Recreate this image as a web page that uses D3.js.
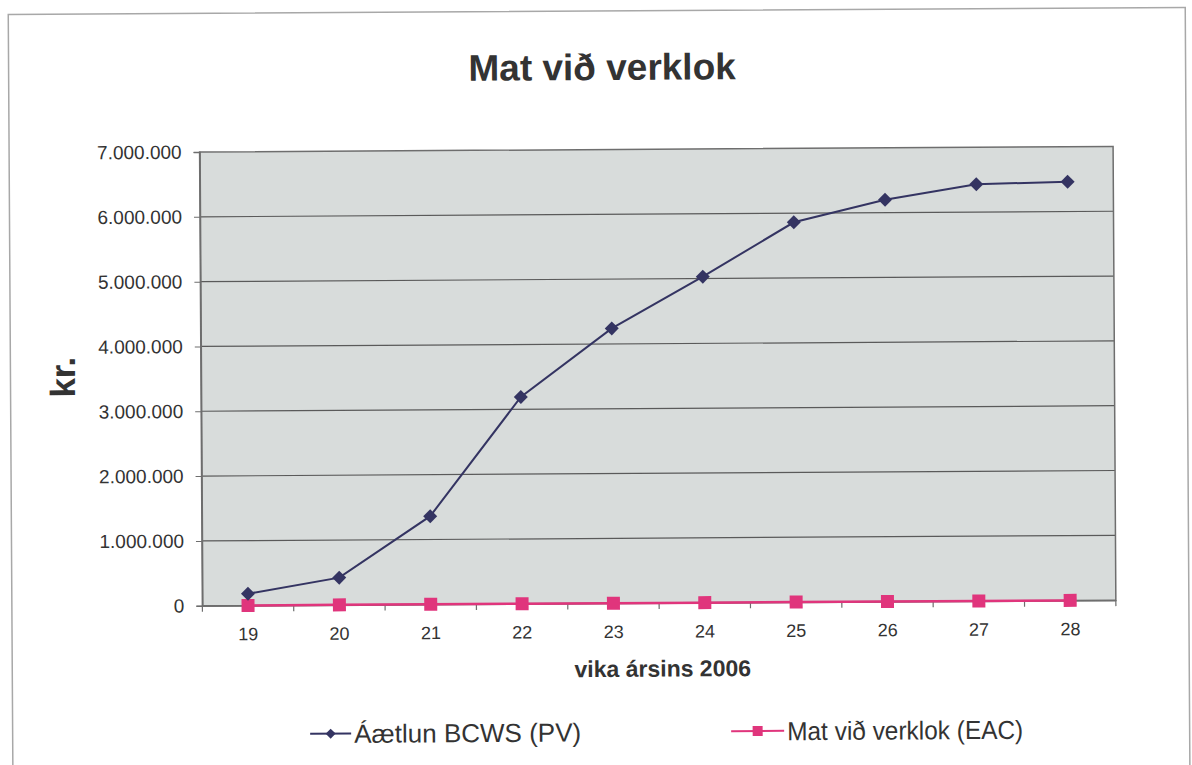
<!DOCTYPE html>
<html>
<head>
<meta charset="utf-8">
<script src="https://cdn.jsdelivr.net/npm/d3@7"></script>
<style>
  html, body { margin: 0; padding: 0; background: #ffffff; }
  svg { display: block; }
  text { font-family: "Liberation Sans", Arial, sans-serif; }
</style>
</head>
<body>
<svg id="chart" width="1192" height="765"></svg>
<script>
// ---- data ----
const weeks = ["19", "20", "21", "22", "23", "24", "25", "26", "27", "28"];
const pvValues = [180000, 420000, 1360000, 3190000, 4240000, 5030000, 5860000, 6200000, 6430000, 6460000];
const eacValues = [0, 0, 0, 0, 0, 0, 0, 0, 0, 0];
const yTicks = [0, 1000000, 2000000, 3000000, 4000000, 5000000, 6000000, 7000000];
const seriesNames = ["Áætlun BCWS (PV)", "Mat við verklok (EAC)"];
const titleText = "Mat við verklok";
const xTitle = "vika ársins 2006";
const yTitle = "kr.";

// ---- layout ----
const W = 1192, H = 765;
const plot = { left: 201, right: 1114.5, top: 149.6, bottom: 603.3 };
const pvColor = "#343462";
const eacColor = "#e0357c";

const svg = d3.select("#chart");
const g = svg.append("g").attr("transform", "rotate(-0.35, 596, 380)");

// outer frame of the chart object
g.append("rect")
  .attr("x", 10.5).attr("y", 11).attr("width", 1177).attr("height", 780)
  .attr("fill", "none").attr("stroke", "#a8a8a8").attr("stroke-width", 1.5);

const x = d3.scaleBand().domain(weeks).range([plot.left, plot.right]);
const y = d3.scaleLinear().domain([0, 7000000]).range([plot.bottom, plot.top]);
const cx = d => x(d) + x.bandwidth() / 2;

const loc = d3.formatLocale({ decimal: ",", thousands: ".", grouping: [3], currency: ["", ""] });
const fmt = loc.format(",d");

// plot background
g.append("rect")
  .attr("x", plot.left).attr("y", plot.top)
  .attr("width", plot.right - plot.left).attr("height", plot.bottom - plot.top)
  .attr("fill", "#d8dcdb");

// gridlines
g.append("g").selectAll("line").data(yTicks.filter(v => v > 0 && v < 7000000)).join("line")
  .attr("x1", plot.left).attr("x2", plot.right)
  .attr("y1", d => y(d)).attr("y2", d => y(d))
  .attr("stroke", "#5a5a5a").attr("stroke-width", 1.2);

// plot border
g.append("rect")
  .attr("x", plot.left).attr("y", plot.top)
  .attr("width", plot.right - plot.left).attr("height", plot.bottom - plot.top)
  .attr("fill", "none").attr("stroke", "#6e6e6e").attr("stroke-width", 1.5);

// y axis
const yAxis = d3.axisLeft(y).tickValues(yTicks).tickFormat(fmt).tickSize(6).tickPadding(12);
const yG = g.append("g").attr("transform", `translate(${plot.left},0)`).call(yAxis);
yG.select(".domain").attr("stroke", "#6e6e6e").attr("stroke-width", 1.5);
yG.selectAll(".tick line").attr("stroke", "#6e6e6e");
yG.selectAll(".tick text").attr("font-size", 19).attr("fill", "#333")
  .attr("font-family", "'Liberation Sans', Arial, sans-serif");

// x axis
const xAxis = d3.axisBottom(x).tickSize(0).tickPadding(22);
const xG = g.append("g").attr("transform", `translate(0,${plot.bottom})`).call(xAxis);
xG.select(".domain").attr("stroke", "#6e6e6e").attr("stroke-width", 1.5);
xG.selectAll(".tick text").attr("font-size", 18).attr("fill", "#333")
  .attr("font-family", "'Liberation Sans', Arial, sans-serif");
// boundary tick marks (between categories)
const bounds = weeks.map(d => x(d)).concat([x(weeks[weeks.length - 1]) + x.bandwidth()]);
g.append("g").selectAll("line").data(bounds).join("line")
  .attr("x1", d => d).attr("x2", d => d)
  .attr("y1", plot.bottom).attr("y2", plot.bottom + 6)
  .attr("stroke", "#6e6e6e").attr("stroke-width", 1.2);

// lines
const line = d3.line().x((d, i) => cx(weeks[i])).y(d => y(d));
g.append("path").datum(eacValues).attr("d", line)
  .attr("fill", "none").attr("stroke", eacColor).attr("stroke-width", 2.5);
g.append("path").datum(pvValues).attr("d", line)
  .attr("fill", "none").attr("stroke", pvColor).attr("stroke-width", 2);

// markers
const diamond = s => `M0,${-s}L${s},0L0,${s}L${-s},0Z`;
g.append("g").selectAll("rect").data(eacValues).join("rect")
  .attr("x", (d, i) => cx(weeks[i]) - 6.5).attr("y", d => y(d) - 6.5)
  .attr("width", 13).attr("height", 13)
  .attr("fill", eacColor);
g.append("g").selectAll("path").data(pvValues).join("path")
  .attr("transform", (d, i) => `translate(${cx(weeks[i])},${y(d)})`)
  .attr("d", diamond(7))
  .attr("fill", pvColor);

// title
g.append("text").attr("x", 604).attr("y", 80).attr("text-anchor", "middle")
  .attr("font-size", 37).attr("font-weight", "bold").attr("fill", "#333")
  .text(titleText);

// axis titles
g.append("text").attr("x", 661).attr("y", 677).attr("text-anchor", "middle")
  .attr("font-size", 23).attr("font-weight", "bold").attr("fill", "#333")
  .text(xTitle);
g.append("text").attr("transform", "translate(75,374) rotate(-90)")
  .attr("text-anchor", "middle")
  .attr("font-size", 35).attr("font-weight", "bold").attr("fill", "#333")
  .text(yTitle);

// legend
const legY = 732;
const leg = [
  { x1: 308, x2: 349, tx: 352, color: pvColor, w: 227, type: "diamond" },
  { x1: 729, x2: 782, tx: 785, color: eacColor, w: 236, type: "square" }
];
leg.forEach((L, i) => {
  g.append("line").attr("x1", L.x1).attr("x2", L.x2).attr("y1", legY).attr("y2", legY)
    .attr("stroke", L.color).attr("stroke-width", 2);
  const mx = (L.x1 + L.x2) / 2;
  if (L.type === "diamond") {
    g.append("path").attr("transform", `translate(${mx},${legY})`).attr("d", diamond(5)).attr("fill", L.color);
  } else {
    g.append("rect").attr("x", mx - 5).attr("y", legY - 5).attr("width", 10).attr("height", 10).attr("fill", L.color);
  }
  g.append("text").attr("x", L.tx).attr("y", legY).attr("dy", "0.36em")
    .attr("font-size", 26).attr("fill", "#333")
    .attr("font-family", "'Liberation Sans Narrow', 'Arial Narrow', 'Liberation Sans', sans-serif")
    .attr("textLength", L.w).attr("lengthAdjust", "spacingAndGlyphs")
    .text(seriesNames[i]);
});
</script>
</body>
</html>
